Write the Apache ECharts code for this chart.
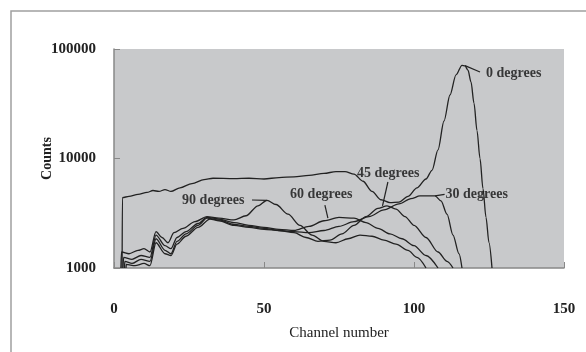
<!DOCTYPE html>
<html>
<head>
<meta charset="utf-8">
<script src="https://cdn.jsdelivr.net/npm/echarts@6/dist/echarts.min.js"></script>
<style>html,body{margin:0;padding:0;background:#fff}#c{width:586px;height:352px}</style>
</head>
<body>
<div id="c"></div>
<script>
// ---- data (channel, counts) ----
const deg0 = [[2.7,1000],[2.8,4400],[5,4500],[8,4700],[11,4900],[13,5100],[15,5000],[17,5200],[19,5000],[22,5400],[26,5900],[30,6400],[33,6600],[40,6550],[45,6600],[50,6500],[55,6700],[60,6800],[65,7000],[70,7300],[74,7600],[77,7600],[80,7200],[83,6200],[86,5000],[89,4200],[92,3950],[95,4000],[98,4500],[101,5400],[104,6500],[106,7800],[108,12000],[110,22000],[112,38000],[114,58000],[116,71000],[117,70000],[118,64000],[119,50000],[120,32000],[121,18000],[122,10000],[123,5300],[124,2900],[125,1700],[126,1000]];
const deg30 = [[4,1000],[4.1,1080],[7,1050],[10,1100],[12,1050],[14,1700],[17,1350],[19,1300],[21,1650],[24,1950],[28,2350],[32,2800],[35,2700],[40,2450],[45,2350],[50,2250],[55,2200],[60,2150],[65,2100],[70,2200],[75,2400],[80,2650],[85,2950],[90,3400],[95,3850],[99,4300],[102,4550],[107,4550],[109,4100],[111,3100],[113,2000],[115,1350],[116,1000]];
const deg45 = [[3.5,1000],[3.6,1150],[6,1100],[9,1200],[12,1150],[14,1850],[17,1450],[19,1350],[21,1750],[24,2050],[28,2450],[31,2850],[35,2750],[40,2500],[45,2400],[50,2300],[55,2200],[60,2100],[64,1900],[68,1750],[72,1800],[76,2050],[80,2450],[84,2950],[88,3500],[91,3700],[94,3450],[97,2950],[100,2450],[104,1900],[108,1400],[111,1150],[113,1000]];
const deg60 = [[3,1000],[3.2,1250],[6,1200],[9,1300],[12,1250],[14,2000],[17,1600],[19,1500],[21,1900],[24,2150],[28,2550],[31,2900],[35,2800],[40,2600],[45,2450],[50,2350],[55,2250],[60,2200],[65,2400],[70,2700],[75,2900],[80,2850],[84,2600],[88,2300],[92,2050],[96,1850],[100,1600],[104,1300],[108,1000]];
const deg90 = [[2.3,1000],[2.5,1400],[5,1350],[8,1450],[10,1500],[12,1400],[14,2150],[16,1900],[18,1700],[20,2100],[23,2300],[27,2650],[31,2950],[35,2850],[40,2750],[44,3000],[48,3700],[51,4150],[54,3800],[58,3100],[62,2450],[66,2000],[70,1750],[74,1700],[78,1850],[82,2000],[86,1950],[90,1800],[94,1650],[98,1450],[101,1250],[104,1000]];

const seriesNames = ['0 degrees','30 degrees','45 degrees','60 degrees','90 degrees'];
// label text anchor [channel, counts] and leader line [from, to]
const labelPos = [[124,60400],[110.5,4740],[81,7380],[58.7,4740],[22.7,4180]];
const leaderFrom = [[122,61700],[110.2,4700],[91.3,6100],[70.3,3760],[46,4180]];
const leaderTo = [[117,70500],[107,4550],[89.5,3700],[71.3,2850],[51,4150]];

const xTicks = {min:0, max:150, interval:50};
const yTicks = {min:1000, max:100000};

const font = 'Liberation Serif';
const allData = [deg0, deg30, deg45, deg60, deg90];

const series = allData.map((d,i)=>({
  name: seriesNames[i], type:'line', data:d, showSymbol:false, symbol:'none',
  smooth:0.3, smoothMonotone:'x', lineStyle:{color:'#222', width:1.3}, z:3, animation:false
}));
series.push({
  type:'scatter', symbolSize:0, animation:false, z:5,
  data: labelPos.map((p,i)=>({value:p, name:seriesNames[i]})),
  label:{show:true, position:'right', distance:0, formatter:p=>p.name,
    fontFamily:font, fontWeight:'bold', fontSize:14, color:'#111'}
});
series.push({
  type:'lines', coordinateSystem:'cartesian2d', animation:false, z:4,
  lineStyle:{color:'#222', width:1.2, opacity:1},
  data: leaderFrom.map((f,i)=>({coords:[f, leaderTo[i]]}))
});

const chart = echarts.init(document.getElementById('c'), null, {renderer:'canvas'});
chart.setOption({
  animation:false,
  backgroundColor:'#fff',
  graphic:[{type:'rect', shape:{x:11, y:11, width:600, height:400}, style:{fill:'none', stroke:'#a0a0a0', lineWidth:1.5}, silent:true}],
  grid:{left:114, top:49, width:450, height:219, show:true, backgroundColor:'#c8c9cb', borderWidth:0},
  xAxis:{type:'value', min:xTicks.min, max:xTicks.max, interval:xTicks.interval,
    name:'Channel number', nameLocation:'middle', nameGap:58, nameMoveOverlap:false,
    nameTextStyle:{fontFamily:font, fontSize:15, color:'#222'},
    axisLine:{show:true, lineStyle:{color:'#888', width:1.5}},
    axisTick:{show:true, inside:true, length:6, lineStyle:{color:'#888'}},
    axisLabel:{margin:34, fontFamily:font, fontWeight:'bold', fontSize:15, color:'#222'},
    splitLine:{show:false}},
  yAxis:{type:'log', logBase:10, min:yTicks.min, max:yTicks.max,
    name:'Counts', nameLocation:'middle', nameGap:67, nameRotate:90, nameMoveOverlap:false,
    nameTextStyle:{fontFamily:font, fontWeight:'bold', fontSize:14, color:'#222', verticalAlign:'middle'},
    axisLine:{show:true, lineStyle:{color:'#888', width:1.5}},
    axisTick:{show:true, inside:true, length:6, lineStyle:{color:'#888'}},
    axisLabel:{margin:18, fontFamily:font, fontWeight:'bold', fontSize:15, color:'#222',
      formatter:v=>String(Math.round(v))},
    splitLine:{show:false}},
  series: series
});
</script>
</body>
</html>
